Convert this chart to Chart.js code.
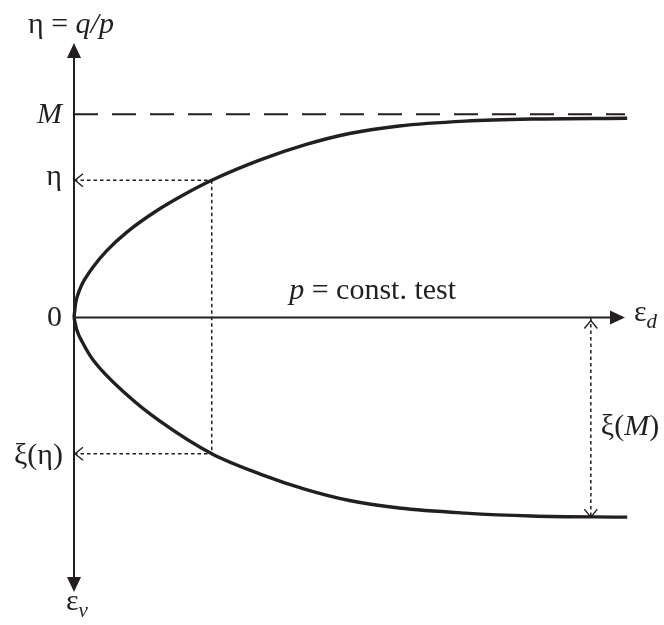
<!DOCTYPE html>
<html>
<head>
<meta charset="utf-8">
<script src="https://cdn.jsdelivr.net/npm/chart.js@4.4.1/dist/chart.umd.min.js"></script>
<style>
  html, body { margin: 0; padding: 0; background: #fff; }
  canvas { display: block; }
</style>
</head>
<body>
<canvas id="chart" width="664" height="625"></canvas>
<script>
// stress ratio branch: eta = q/p against deviatoric strain
const strainUp = [0, 0.03, 0.1, 0.2, 0.35, 0.6, 0.96, 1.5, 2.0, 2.5, 3.38, 4.2, 5.0, 5.9, 7.1, 8.3, 10.04];
const etaCurve = [0, 0.07, 0.135, 0.19, 0.25, 0.33, 0.42, 0.525, 0.605, 0.675, 0.775, 0.85, 0.905, 0.942, 0.966, 0.976, 0.98];

// volumetric branch: xi (dilatancy) against deviatoric strain
const strainDown = [0, 0.05, 0.17, 0.35, 0.96, 1.56, 2.5, 3.38, 4.2, 5.0, 5.9, 7.1, 8.3, 10.04];
const xiCurve = [0, -0.06, -0.13, -0.21, -0.38, -0.51, -0.67, -0.77, -0.845, -0.9, -0.937, -0.962, -0.976, -0.982];

// reference levels
const M = 1.0;
const markStrain = 2.5;              // the sample point picked out by the dotted lines
const etaMark = etaCurve[strainUp.indexOf(markStrain)];
const xiMark = xiCurve[strainDown.indexOf(markStrain)];
const xiM = xiCurve[xiCurve.length - 1];
const xiMStrain = 9.38;

// axis extents
const xMax = 10;
const yTop = 1.35;
const yBottom = -1.35;

const ink = '#231f20';
const serif = '"Liberation Serif", "DejaVu Serif", serif';
const fontSize = 30;
const subSize = 21;

const toPts = (xs, ys) => xs.map((x, i) => ({ x, y: ys[i] }));
const seg = (x1, y1, x2, y2) => [{ x: x1, y: y1 }, { x: x2, y: y2 }];

function line(data, extra) {
  return Object.assign({
    data,
    borderColor: ink,
    borderWidth: 2,
    pointRadius: 0,
    pointHoverRadius: 0,
    showLine: true,
    fill: false,
    clip: false,
    tension: 0
  }, extra || {});
}

const dotted = { borderWidth: 1.5, borderDash: [3.5, 3] };
const curve = { borderWidth: 3.4, cubicInterpolationMode: 'monotone', borderCapStyle: 'butt' };

function filledHead(ctx, tx, ty, dx, dy) {
  const len = 15, half = 7;
  const bx = tx - dx * len, by = ty - dy * len;
  ctx.beginPath();
  ctx.moveTo(tx, ty);
  ctx.lineTo(bx - dy * half, by + dx * half);
  ctx.lineTo(bx + dy * half, by - dx * half);
  ctx.closePath();
  ctx.fill();
}

function openHead(ctx, tx, ty, dx, dy) {
  const len = 8, half = 6.5;
  const bx = tx - dx * len, by = ty - dy * len;
  ctx.beginPath();
  ctx.moveTo(bx - dy * half, by + dx * half);
  ctx.lineTo(tx, ty);
  ctx.lineTo(bx + dy * half, by - dx * half);
  ctx.lineWidth = 1.4;
  ctx.stroke();
}

// runs: [text, style] with style '' upright, 'i' italic, 'sub' italic subscript
function runFont(style) {
  if (style === 'sub') return 'italic ' + subSize + 'px ' + serif;
  if (style === 'i') return 'italic ' + fontSize + 'px ' + serif;
  return fontSize + 'px ' + serif;
}

function drawRuns(ctx, runs, x, y, align) {
  let total = 0;
  runs.forEach(([t, s]) => { ctx.font = runFont(s); total += ctx.measureText(t).width; });
  let cx = align === 'right' ? x - total : align === 'center' ? x - total / 2 : x;
  ctx.textAlign = 'left';
  ctx.textBaseline = 'alphabetic';
  runs.forEach(([t, s]) => {
    ctx.font = runFont(s);
    ctx.fillText(t, cx, s === 'sub' ? y + 7 : y);
    cx += ctx.measureText(t).width;
  });
}

const overlay = {
  id: 'overlay',
  afterDatasetsDraw(chart) {
    const { ctx, scales: { x, y } } = chart;
    const X = v => x.getPixelForValue(v);
    const Y = v => y.getPixelForValue(v);
    ctx.save();
    ctx.fillStyle = ink;
    ctx.strokeStyle = ink;

    // axis arrowheads
    filledHead(ctx, X(0), Y(yTop), 0, -1);
    filledHead(ctx, X(0), Y(yBottom), 0, 1);
    filledHead(ctx, X(xMax), Y(0), 1, 0);

    // open heads on the dotted read-off lines
    openHead(ctx, X(0) + 1, Y(etaMark), -1, 0);
    openHead(ctx, X(0) + 1, Y(xiMark), -1, 0);
    openHead(ctx, X(xiMStrain), Y(0) + 3, 0, -1);
    openHead(ctx, X(xiMStrain), Y(xiM), 0, 1);

    // labels
    const left = X(0) - 12;
    drawRuns(ctx, [['η = ', ''], ['q/p', 'i']], X(0) - 46, Y(yTop) - 10, 'left');
    drawRuns(ctx, [['M', 'i']], left, Y(M) + 9, 'right');
    drawRuns(ctx, [['η', '']], left, Y(etaMark) + 5, 'right');
    drawRuns(ctx, [['0', '']], left, Y(0) + 8, 'right');
    drawRuns(ctx, [['ξ(η)', '']], left + 1, Y(xiMark) + 10, 'right');
    drawRuns(ctx, [['ε', ''], ['v', 'sub']], X(0) - 8, Y(yBottom) + 18, 'left');
    drawRuns(ctx, [['ε', ''], ['d', 'sub']], X(xMax) + 9, Y(0) + 3, 'left');
    drawRuns(ctx, [['p', 'i'], [' = const. test', '']], X(5.42), Y(0) - 19, 'center');
    drawRuns(ctx, [['ξ(', ''], ['M', 'i'], [')', '']], X(xiMStrain) + 10, Y(xiM / 2) + 18, 'left');

    ctx.restore();
  }
};

new Chart(document.getElementById('chart'), {
  type: 'scatter',
  data: {
    datasets: [
      line(toPts(strainUp, etaCurve), curve),
      line(toPts(strainDown, xiCurve), curve),
      line(seg(0, M, xMax, M), { borderWidth: 2, borderDash: [24, 14] }),
      line(seg(0, 0, xMax - 0.2, 0)),
      line(seg(0, yBottom + 0.05, 0, yTop - 0.05)),
      line(seg(0, etaMark, markStrain, etaMark), dotted),
      line(seg(markStrain, etaMark, markStrain, xiMark), dotted),
      line(seg(0, xiMark, markStrain, xiMark), dotted),
      line(seg(xiMStrain, 0, xiMStrain, xiM), dotted)
    ]
  },
  options: {
    responsive: false,
    animation: false,
    events: [],
    layout: { padding: { left: 74, right: 39, top: 43, bottom: 33 } },
    plugins: {
      legend: { display: false },
      tooltip: { enabled: false }
    },
    scales: {
      x: { type: 'linear', min: 0, max: xMax, display: false },
      y: { type: 'linear', min: yBottom, max: yTop, display: false }
    }
  },
  plugins: [overlay]
});
</script>
</body>
</html>
